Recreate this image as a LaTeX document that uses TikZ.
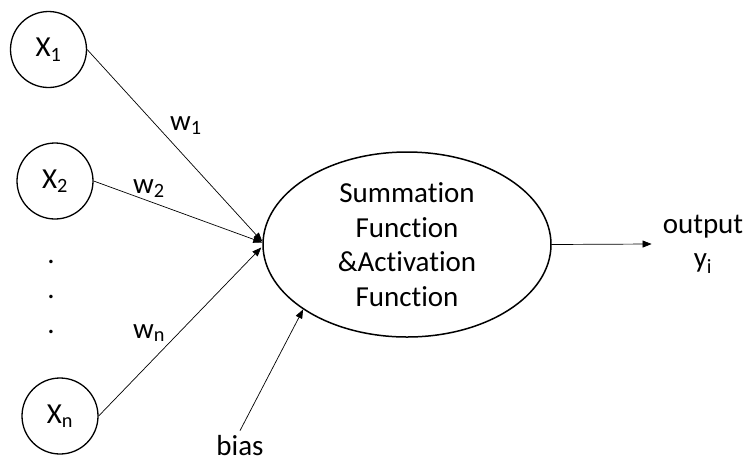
\documentclass[tikz,border=0pt]{standalone}
\usepackage{fontspec}
\setmainfont[Ligatures={NoCommon}]{Carlito}
\usetikzlibrary{arrows.meta,shapes.geometric}
\begin{document}
\begin{tikzpicture}[x=1pt,y=-1pt,
  every node/.style={font=\fontsize{29}{34.5}\selectfont},
  inp/.style={draw,circle,minimum size=76pt,inner sep=0pt,line width=1.3pt},
  conn/.style={line width=0.7pt,-{Triangle[length=9pt,width=7pt]}},
  lbl/.style={inner sep=0pt}]
\useasboundingbox (0,0) rectangle (746,464);
\node[inp] (x1) at (48.5,49.5) {X\textsubscript{1}};
\node[inp] (x2) at (55,181) {X\textsubscript{2}};
\node[inp] (xn) at (60,416) {X\textsubscript{n}};
\node[lbl] (d1) at (51,262) {.};
\node[lbl] (d2) at (51,297) {.};
\node[lbl] (d3) at (51,332) {.};
\node[draw,ellipse,line width=1.5pt,minimum width=288pt,minimum height=185pt,inner sep=0pt,align=center] (sum) at (407,244.5)
  {Summation\\Function\\\&Activation\\Function};
\node[lbl,anchor=base west] (w1) at (170,130) {w\textsubscript{1}};
\node[lbl,anchor=base west] (w2) at (133,193) {w\textsubscript{2}};
\node[lbl,anchor=base west] (wn) at (133,338) {w\textsubscript{n}};
\node[lbl,anchor=base] (bias) at (240,455) {bias};
\node[lbl,align=center] (out) at (703,244) {output\\y\textsubscript{i}};
\draw[conn] (x1.east) -- ([yshift=3pt]sum.west);
\draw[conn] (x2.east) -- ([yshift=2pt]sum.west);
\draw[conn] (xn.east) -- ([yshift=-3pt,xshift=-1pt]sum.west);
\draw[conn] ([yshift=4pt]bias.north) -- (sum.212.5);
\draw[conn] (sum.east) -- ([xshift=-11pt]out.west);
\end{tikzpicture}
\end{document}
